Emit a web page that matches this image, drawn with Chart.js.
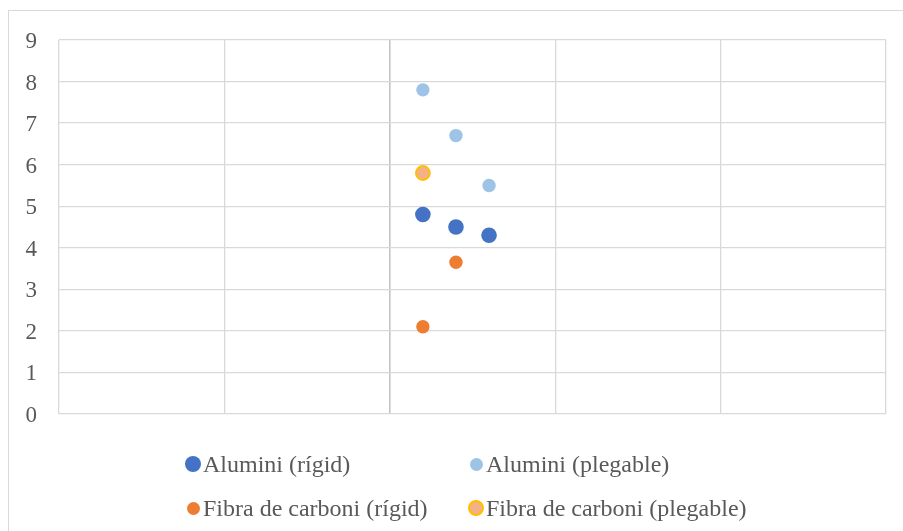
<!DOCTYPE html>
<html>
<head>
<meta charset="utf-8">
<script src="https://cdn.jsdelivr.net/npm/chart.js@4.4.1/dist/chart.umd.min.js"></script>
<style>
  html, body { margin: 0; padding: 0; background: #ffffff; }
  #wrap { position: relative; width: 903px; height: 531px; overflow: hidden; }
  #frame { position: absolute; left: 8px; top: 10px; width: 1000px; height: 1000px;
           border: 1.5px solid #d9d9d9; box-sizing: border-box; }
  canvas { position: absolute; left: 0; top: 0; }
  .leg { position: absolute; font-family: 'Liberation Serif', 'Times New Roman', serif;
         font-size: 24px; color: #595959; white-space: nowrap; line-height: 1; }
  .leg .dot { position: absolute; border-radius: 50%; box-sizing: border-box; }
  .leg .txt { position: absolute; transform: translateY(-50%); }
</style>
</head>
<body>
<div id="wrap">
  <div id="frame"></div>
  <canvas id="c" width="903" height="531"></canvas>
  <div id="legend"></div>
</div>
<script>
// Sample positions on the x axis
const xValues = [1, 2, 3];

// Measured values per product type
const aluminiRigid = [4.8, 4.5, 4.3];
const aluminiPlegable = [7.8, 6.7, 5.5];
const carboniRigid = [2.1, 3.65, null];
const carboniPlegable = [5.8, null, null];

const seriesNames = [
  'Alumini (rígid)',
  'Alumini (plegable)',
  'Fibra de carboni (rígid)',
  'Fibra de carboni (plegable)'
];

// Axis ticks
const yTicks = [0, 1, 2, 3, 4, 5, 6, 7, 8, 9];
const xGridTicks = [-10, -5, 0, 5, 10, 15];

function toPoints(values) {
  const pts = [];
  values.forEach((v, i) => { if (v !== null) pts.push({ x: xValues[i], y: v }); });
  return pts;
}

const styles = [
  { fill: '#4472C4', border: '#4472C4', r: 7.8, bw: 0, dot: 16 },
  { fill: '#9DC3E6', border: '#9DC3E6', r: 6.7, bw: 0, dot: 13 },
  { fill: '#ED7D31', border: '#ED7D31', r: 6.7, bw: 0, dot: 13 },
  { fill: '#F4B183', border: '#FFC000', r: 7, bw: 1.8, dot: 16 }
];

const seriesValues = [aluminiRigid, aluminiPlegable, carboniRigid, carboniPlegable];

const datasets = seriesValues.map((vals, i) => ({
  label: seriesNames[i],
  data: toPoints(vals),
  backgroundColor: styles[i].fill,
  borderColor: styles[i].border,
  borderWidth: styles[i].bw,
  pointRadius: styles[i].r,
  pointHoverRadius: styles[i].r,
  showLine: false
}));

const chart = new Chart(document.getElementById('c'), {
  type: 'scatter',
  data: { datasets },
  options: {
    responsive: false,
    animation: false,
    events: [],
    layout: { padding: { left: 9, right: 17, top: 40, bottom: 117 } },
    plugins: { legend: { display: false }, tooltip: { enabled: false } },
    scales: {
      x: {
        type: 'linear',
        min: xGridTicks[0],
        max: xGridTicks[xGridTicks.length - 1],
        afterBuildTicks: (s) => { s.ticks = xGridTicks.map(v => ({ value: v })); },
        afterFit: (s) => { s.height = 0; },
        ticks: { display: false },
        border: { display: false },
        grid: {
          drawTicks: false,
          color: (ctx) => ctx.tick && ctx.tick.value === 0 ? '#c4c4c4' : '#d9d9d9',
          lineWidth: (ctx) => ctx.tick && ctx.tick.value === 0 ? 1.6 : 1.3
        }
      },
      y: {
        type: 'linear',
        min: yTicks[0],
        max: yTicks[yTicks.length - 1],
        afterBuildTicks: (s) => { s.ticks = yTicks.map(v => ({ value: v })); },
        afterFit: (s) => { s.width = 50; },
        border: { display: false },
        grid: { drawTicks: false, color: '#d9d9d9', lineWidth: 1.3 },
        ticks: {
          padding: 22,
          labelOffset: 2,
          color: '#595959',
          font: { family: "'Liberation Serif', 'Times New Roman', serif", size: 23 }
        }
      }
    }
  }
});

// Legend laid out in two aligned columns under the plot
const legend = document.getElementById('legend');
const colX = [193, 476];
const rowY = [464, 508];
datasets.forEach((ds, i) => {
  const st = styles[i];
  const item = document.createElement('div');
  item.className = 'leg';
  item.style.left = colX[i % 2] + 'px';
  item.style.top = rowY[Math.floor(i / 2)] + 'px';
  const dot = document.createElement('span');
  dot.className = 'dot';
  dot.style.width = st.dot + 'px';
  dot.style.height = st.dot + 'px';
  dot.style.left = (-st.dot / 2) + 'px';
  dot.style.top = (-st.dot / 2) + 'px';
  dot.style.background = st.fill;
  if (st.bw) dot.style.border = '2px solid ' + st.border;
  const txt = document.createElement('span');
  txt.className = 'txt';
  txt.style.left = '10px';
  txt.style.top = '0px';
  txt.textContent = ds.label;
  item.appendChild(dot);
  item.appendChild(txt);
  legend.appendChild(item);
});
</script>
</body>
</html>
